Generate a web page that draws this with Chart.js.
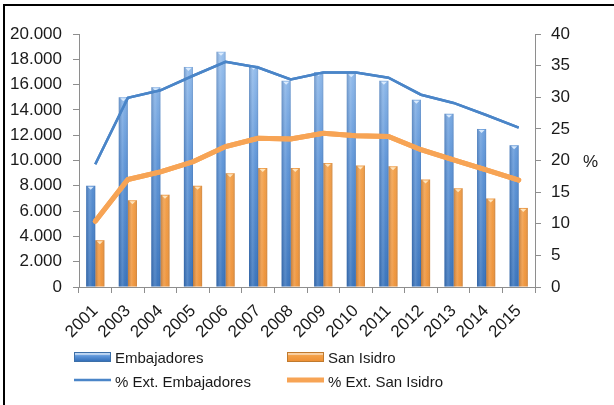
<!DOCTYPE html>
<html>
<head>
<meta charset="utf-8">
<script src="https://cdn.jsdelivr.net/npm/chart.js@4.4.1/dist/chart.umd.min.js"></script>
<style>
  html, body { margin: 0; padding: 0; background: #ffffff; }
  #wrap { position: relative; width: 614px; height: 405px; }
  canvas { display: block; }
</style>
</head>
<body>
<div id="wrap"><canvas id="c" width="614" height="405"></canvas></div>
<script>
// Population totals and foreign-resident share, two Madrid neighbourhoods
const years = ['2001', '2003', '2004', '2005', '2006', '2007', '2008', '2009', '2010', '2011', '2012', '2013', '2014', '2015'];
const embajadores = [8000, 15000, 15800, 17400, 18600, 17500, 16300, 17000, 16900, 16300, 14800, 13700, 12500, 11200];
const sanIsidro = [3700, 6850, 7300, 8000, 9000, 9400, 9400, 9800, 9600, 9550, 8500, 7800, 7000, 6250];
const pctExtEmbajadores = [19.4, 29.9, 31.1, 33.4, 35.6, 34.7, 32.8, 33.9, 33.9, 33.1, 30.4, 29.1, 27.2, 25.2];
const pctExtSanIsidro = [10.4, 17.0, 18.2, 19.8, 22.2, 23.5, 23.4, 24.3, 23.9, 23.8, 21.7, 20.1, 18.5, 16.9];

const FONT = "'Liberation Sans', Arial, sans-serif";
const AXIS = '#8e8e8e';
const TEXT = '#1a1a1a';

function thousands(v) {
  return String(v).replace(/\B(?=(\d{3})+(?!\d))/g, '.');
}

function verticalFill(stops) {
  return function (ctx) {
    const area = ctx.chart.chartArea;
    if (!area) return stops[stops.length - 1][1];
    const g = ctx.chart.ctx.createLinearGradient(0, area.bottom, 0, area.top);
    stops.forEach(s => g.addColorStop(s[0], s[1]));
    return g;
  };
}

const blueStops = [[0, '#3470ba'], [0.5, '#5b93d7'], [1, '#a0c6f1']];
const orangeStops = [[0, '#ee9135'], [0.5, '#f39e45'], [1, '#f7b160']];

// Cylinder shading drawn over each bar element
const barShade = {
  id: 'barShade',
  afterDatasetsDraw(chart) {
    const ctx = chart.ctx;
    [0, 1].forEach(di => {
      const meta = chart.getDatasetMeta(di);
      meta.data.forEach(el => {
        const p = el.getProps(['x', 'y', 'base', 'width'], true);
        const l = p.x - p.width / 2, r = p.x + p.width / 2;
        const g = ctx.createLinearGradient(l, 0, r, 0);
        g.addColorStop(0, 'rgba(20,40,80,0.22)');
        g.addColorStop(0.4, 'rgba(255,255,255,0.16)');
        g.addColorStop(0.7, 'rgba(255,255,255,0.04)');
        g.addColorStop(1, 'rgba(20,40,80,0.16)');
        ctx.save();
        ctx.fillStyle = g;
        ctx.fillRect(l, p.y, p.width, p.base - p.y);
        // small light cap on top of each column
        ctx.fillStyle = di === 0 ? 'rgba(225,240,255,0.9)' : 'rgba(255,235,200,0.9)';
        ctx.beginPath();
        ctx.moveTo(l + 1.5, p.y + 1);
        ctx.lineTo(r - 1.5, p.y + 1);
        ctx.lineTo(p.x, p.y + 4);
        ctx.closePath();
        ctx.fill();
        ctx.restore();
      });
    });
    // keep the percentage lines on top of the shading
    [3, 2].forEach(di => chart.getDatasetMeta(di).controller.draw());
  }
};

// Frame, unit label and two-column legend
const decorations = {
  id: 'decorations',
  beforeDraw(chart) {
    const ctx = chart.ctx;
    ctx.save();
    ctx.fillStyle = '#ffffff';
    ctx.fillRect(0, 0, chart.width, chart.height);
    ctx.restore();
  },
  afterDraw(chart) {
    const ctx = chart.ctx;
    const area = chart.chartArea;
    ctx.save();
    // frame
    ctx.strokeStyle = '#000000';
    ctx.lineWidth = 2;
    ctx.beginPath();
    ctx.moveTo(4, chart.height);
    ctx.lineTo(4, 5);
    ctx.lineTo(chart.width, 5);
    ctx.stroke();

    // unit of the right axis
    ctx.fillStyle = TEXT;
    ctx.font = '17px ' + FONT;
    ctx.textAlign = 'left';
    ctx.textBaseline = 'middle';
    ctx.fillText('%', 583, area.top + (area.bottom - area.top) * 0.506);

    // legend
    const ds = chart.data.datasets;
    const cols = [74, 287];
    const rows = [357, 381];
    const sw = 37;
    ds.forEach((d, i) => {
      const x = cols[i % 2];
      const y = rows[Math.floor(i / 2)];
      if (d.type === 'line') {
        ctx.strokeStyle = d.borderColor;
        ctx.lineWidth = d.borderWidth;
        ctx.beginPath();
        ctx.moveTo(x, y - 1);
        ctx.lineTo(x + sw, y - 1);
        ctx.stroke();
      } else {
        const stops = i === 0 ? blueStops : orangeStops;
        const g = ctx.createLinearGradient(0, y + 4, 0, y - 5);
        stops.forEach(s => g.addColorStop(s[0], s[1]));
        ctx.fillStyle = g;
        ctx.fillRect(x, y - 5, sw, 9);
        ctx.fillStyle = 'rgba(255,255,255,0.45)';
        ctx.fillRect(x + 1, y - 4, sw - 2, 2);
        ctx.strokeStyle = d.borderColor;
        ctx.lineWidth = 1;
        ctx.strokeRect(x + 0.5, y - 4.5, sw - 1, 9);
      }
      ctx.fillStyle = TEXT;
      ctx.font = '15px ' + FONT;
      ctx.textAlign = 'left';
      ctx.textBaseline = 'middle';
      ctx.fillText(d.label, x + sw + 4, y + 2);
    });
    ctx.restore();
  }
};

new Chart(document.getElementById('c'), {
  type: 'bar',
  data: {
    labels: years,
    datasets: [
      {
        label: 'Embajadores',
        data: embajadores,
        yAxisID: 'y',
        order: 2,
        backgroundColor: verticalFill(blueStops),
        borderColor: '#3c6fa8',
        borderWidth: 0,
        categoryPercentage: 0.56,
        barPercentage: 1.0
      },
      {
        label: 'San Isidro',
        data: sanIsidro,
        yAxisID: 'y',
        order: 2,
        backgroundColor: verticalFill(orangeStops),
        borderColor: '#c07a2e',
        borderWidth: 0,
        categoryPercentage: 0.56,
        barPercentage: 1.0
      },
      {
        type: 'line',
        label: '% Ext. Embajadores',
        data: pctExtEmbajadores,
        yAxisID: 'y1',
        order: 0,
        borderColor: '#4a85c8',
        borderWidth: 2.5,
        pointRadius: 0,
        tension: 0,
        fill: false
      },
      {
        type: 'line',
        label: '% Ext. San Isidro',
        data: pctExtSanIsidro,
        yAxisID: 'y1',
        order: 1,
        borderColor: '#f7a455',
        borderWidth: 5,
        pointRadius: 0,
        tension: 0,
        fill: false,
        borderCapStyle: 'round'
      }
    ]
  },
  options: {
    responsive: false,
    animation: false,
    layout: { padding: { top: 34, left: 0, right: 0, bottom: 0 } },
    plugins: {
      legend: { display: false },
      tooltip: { enabled: false },
      title: { display: false }
    },
    scales: {
      x: {
        offset: true,
        grid: { display: true, drawOnChartArea: false, drawTicks: true, tickLength: 6, color: AXIS, offset: true },
        border: { display: true, color: AXIS, width: 1 },
        ticks: {
          color: TEXT,
          font: { family: FONT, size: 17 },
          minRotation: 45,
          maxRotation: 45,
          padding: 8,
          autoSkip: false
        },
        afterFit(scale) { scale.height = 118; }
      },
      y: {
        position: 'left',
        min: 0,
        max: 20000,
        grid: { display: true, drawOnChartArea: false, drawTicks: true, tickLength: 6, color: AXIS },
        border: { display: true, color: AXIS, width: 1 },
        ticks: {
          stepSize: 2000,
          color: TEXT,
          padding: 11,
          font: { family: FONT, size: 17 },
          callback: v => thousands(v)
        },
        afterFit(scale) { scale.width = 79; }
      },
      y1: {
        position: 'right',
        min: 0,
        max: 40,
        grid: { display: true, drawOnChartArea: false, drawTicks: true, tickLength: 6, color: AXIS },
        border: { display: true, color: AXIS, width: 1 },
        ticks: {
          stepSize: 5,
          color: TEXT,
          padding: 10,
          font: { family: FONT, size: 17 }
        },
        afterFit(scale) { scale.width = 79; }
      }
    }
  },
  plugins: [decorations, barShade]
});
</script>
</body>
</html>
